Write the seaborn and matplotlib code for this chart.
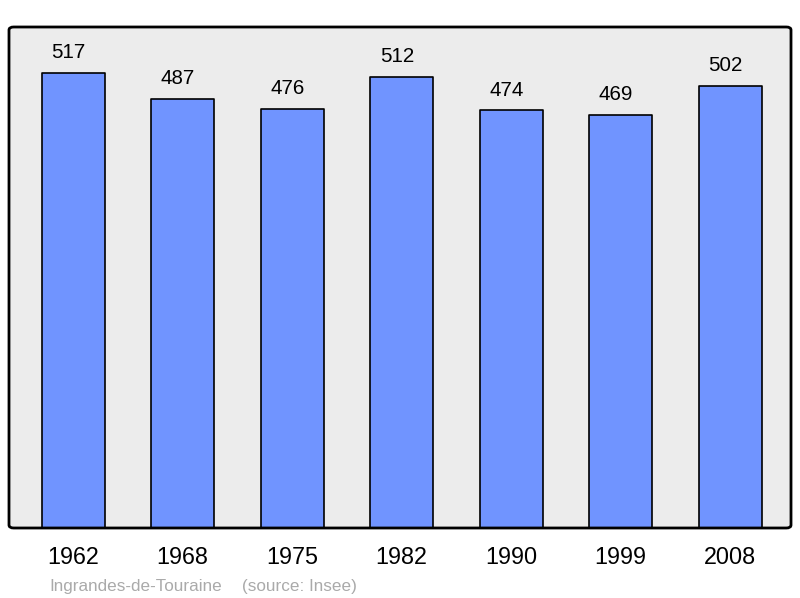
import matplotlib
matplotlib.use("Agg")
import matplotlib.pyplot as plt
import seaborn as sns
import pandas as pd
from matplotlib.patches import FancyBboxPatch

years = ["1962", "1968", "1975", "1982", "1990", "1999", "2008"]
population = [517, 487, 476, 512, 474, 469, 502]
commune = "Ingrandes-de-Touraine"
source = "(source: Insee)"

sns.set_theme(style="white")
plt.rcParams["font.family"] = ["Liberation Sans", "DejaVu Sans"]

df = pd.DataFrame({"year": years, "pop": population})

fig = plt.figure(figsize=(8, 5.98), dpi=100)
ax = fig.add_axes([9/800, 70/598, 782/800, 501/598])
ax.set_facecolor("#ececec")

sns.barplot(data=df, x="year", y="pop", ax=ax, color="#7094ff", saturation=1,
            width=0.575, edgecolor="black", linewidth=1.2)
for p in ax.patches:
    p.set_joinstyle("round")

ax.set_xlim(-0.585, 6.555)
ax.set_ylim(0, max(population) * 1.1)

for i, v in enumerate(population):
    ax.annotate(str(v), (i, v), xytext=(-3.3, 10.5), textcoords="offset points",
                ha="center", va="baseline", fontsize=14.8, color="black")

ax.set_yticks([])
ax.set_xlabel("")
ax.set_ylabel("")
ax.tick_params(axis="x", length=0, pad=13, labelsize=16.8, colors="black")
for s in ax.spines.values():
    s.set_visible(False)

frame = FancyBboxPatch((0, 0), 1, 1, boxstyle="round,pad=0,rounding_size=0.006",
                       transform=ax.transAxes, facecolor="none", edgecolor="black",
                       linewidth=2, clip_on=False, zorder=5)
ax.add_patch(frame)

fig.text(49/800, 1 - 591/598, commune, fontsize=12.3, color="#aaaaaa", ha="left", va="baseline")
fig.text(242/800, 1 - 591/598, source, fontsize=12.3, color="#aaaaaa", ha="left", va="baseline")

fig.savefig("out.png", dpi=100)
